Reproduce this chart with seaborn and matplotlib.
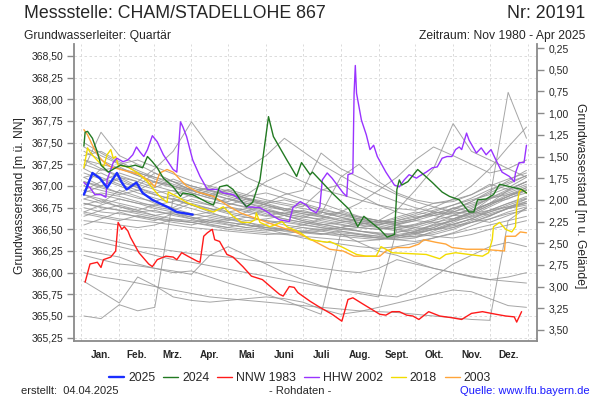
import numpy as np
import pandas as pd
import matplotlib
matplotlib.use("Agg")
import matplotlib.pyplot as plt
import seaborn as sns
from matplotlib.ticker import FuncFormatter

# Gelaendehoehe der Messstelle (m ue. NN) -> rechte Achse in m u. Gelaende
GELAENDE = 368.84

month_names = ['Jan.', 'Feb.', 'Mrz.', 'Apr.', 'Mai', 'Juni', 'Juli', 'Aug.', 'Sept.', 'Okt.', 'Nov.', 'Dez.']
month_starts = [0, 31, 59, 90, 120, 151, 181, 212, 243, 273, 304, 334, 365]

# --- graue Einzeljahre (Tag im Jahr / Wasserstand) ---
grey_days = [2, 16, 31, 46, 60, 75, 90, 105, 120, 135, 151, 166, 181, 196, 212, 227, 243, 258, 273, 288, 304, 319, 334, 349, 364]

g01 = [367.20, 367.62, 367.35, 367.25, 367.15, 367.05, 366.95, 366.88, 366.80, 366.75, 366.70, 366.66, 366.62, 366.58, 366.55, 366.52, 366.50, 366.55, 366.60, 366.58, 366.62, 366.70, 366.80, 366.95, 367.05]
g02 = [367.05, 367.00, 367.10, 367.05, 367.20, 367.40, 367.74, 367.45, 367.25, 367.10, 367.00, 366.92, 366.85, 366.80, 366.72, 366.65, 366.60, 366.58, 366.62, 366.70, 366.68, 366.72, 366.80, 366.90, 366.95]
g03 = [366.95, 366.90, 366.85, 366.80, 366.78, 366.82, 366.90, 367.00, 367.10, 367.20, 367.35, 367.55, 367.40, 367.25, 367.12, 367.00, 366.90, 366.82, 366.75, 366.70, 366.66, 366.65, 366.72, 366.80, 366.88]
g04 = [366.80, 366.75, 366.72, 366.70, 366.66, 366.62, 366.60, 366.58, 366.62, 366.70, 366.80, 366.90, 366.95, 367.38, 367.20, 367.10, 367.00, 366.90, 366.82, 366.76, 366.70, 366.68, 366.72, 366.76, 366.82]
g05 = [366.70, 366.66, 366.62, 366.60, 366.58, 366.55, 366.52, 366.50, 366.48, 366.46, 366.44, 366.45, 366.48, 366.50, 366.52, 366.55, 366.60, 366.72, 366.95, 367.20, 367.72, 367.40, 367.30, 367.20, 367.10]
g06 = [366.90, 366.85, 366.80, 366.75, 366.70, 366.68, 366.64, 366.60, 366.58, 366.55, 366.52, 366.50, 366.48, 366.45, 366.44, 366.42, 366.40, 366.42, 366.48, 366.52, 366.60, 366.70, 366.85, 368.08, 367.55]
g07 = [367.30, 367.25, 367.20, 367.12, 367.05, 367.00, 366.95, 366.90, 366.85, 366.80, 366.76, 366.72, 366.68, 366.65, 366.62, 366.60, 366.58, 366.62, 366.68, 366.75, 366.85, 367.00, 367.20, 367.45, 367.68]
g08 = [367.40, 367.30, 367.20, 367.15, 367.10, 367.05, 367.00, 366.95, 366.90, 366.86, 366.82, 366.78, 366.74, 366.70, 366.66, 366.62, 366.58, 366.55, 366.52, 366.50, 366.52, 366.58, 366.65, 366.75, 366.85]
g09 = [367.10, 367.15, 367.05, 366.98, 366.92, 366.95, 366.88, 366.82, 366.78, 366.85, 366.80, 366.74, 366.70, 366.66, 366.70, 366.64, 366.60, 366.56, 366.60, 366.66, 366.62, 366.68, 366.78, 366.88, 366.95]
g10 = [366.85, 366.92, 366.88, 366.82, 366.76, 366.72, 366.80, 366.74, 366.68, 366.64, 366.60, 366.58, 366.55, 366.52, 366.50, 366.48, 366.46, 366.44, 366.47, 366.55, 366.60, 366.64, 366.70, 366.76, 366.80]
g11 = [367.00, 366.95, 366.90, 366.95, 366.90, 366.85, 366.78, 366.72, 366.75, 366.70, 366.65, 366.70, 366.66, 366.60, 366.56, 366.52, 366.50, 366.52, 366.56, 366.62, 366.70, 366.78, 366.85, 366.92, 367.00]
g12 = [366.75, 366.70, 366.68, 366.65, 366.62, 366.60, 366.58, 366.62, 366.58, 366.55, 366.52, 366.50, 366.47, 366.45, 366.42, 366.40, 366.38, 366.40, 366.44, 366.50, 366.56, 366.62, 366.70, 366.78, 366.85]
g13 = [367.20, 367.10, 367.02, 366.95, 367.05, 367.00, 366.92, 366.86, 366.82, 366.90, 367.05, 367.15, 367.05, 366.96, 366.90, 366.84, 366.78, 366.74, 366.72, 366.80, 366.84, 366.90, 367.00, 367.08, 367.15]
g14 = [366.95, 367.05, 367.15, 367.08, 367.00, 366.94, 366.88, 366.95, 366.90, 366.84, 366.78, 366.72, 366.68, 366.64, 366.60, 366.58, 366.55, 366.60, 366.66, 366.72, 366.78, 366.84, 366.90, 366.98, 367.10]
g15 = [366.60, 366.58, 366.55, 366.52, 366.55, 366.62, 366.58, 366.54, 366.50, 366.48, 366.46, 366.44, 366.42, 366.40, 366.38, 366.36, 366.38, 366.42, 366.46, 366.50, 366.54, 366.58, 366.62, 366.68, 366.72]
g16 = [367.35, 367.40, 367.28, 367.18, 367.10, 367.02, 366.96, 366.90, 366.96, 366.90, 366.84, 366.80, 366.76, 366.95, 367.02, 366.90, 366.78, 366.70, 366.64, 366.66, 366.70, 366.76, 366.86, 366.96, 367.05]
g17 = [366.70, 366.78, 366.85, 366.80, 366.74, 366.70, 366.66, 366.70, 366.76, 366.72, 366.66, 366.62, 366.58, 366.54, 366.50, 366.52, 366.56, 366.60, 366.64, 366.68, 366.74, 366.82, 366.92, 367.02, 367.12]
g18 = [367.15, 367.08, 367.00, 366.92, 366.86, 366.80, 366.74, 366.68, 366.64, 366.60, 366.62, 366.66, 366.60, 366.56, 366.52, 366.48, 366.45, 366.43, 366.41, 366.44, 366.50, 366.58, 366.66, 366.74, 366.80]
g19 = [366.80, 366.76, 366.72, 366.68, 366.64, 366.60, 366.58, 366.55, 366.52, 366.50, 366.48, 366.50, 366.55, 366.62, 366.70, 366.80, 366.95, 367.10, 367.30, 367.45, 367.35, 367.25, 367.15, 367.20, 367.30]
g20 = [367.25, 367.18, 367.22, 367.12, 367.04, 366.98, 366.92, 366.86, 366.80, 366.76, 366.72, 366.68, 366.64, 366.62, 366.58, 366.55, 366.52, 366.50, 366.54, 366.60, 366.66, 366.72, 366.80, 366.88, 366.96]
g21 = [366.65, 366.72, 366.78, 366.72, 366.66, 366.70, 366.64, 366.58, 366.55, 366.52, 366.56, 366.60, 366.56, 366.52, 366.48, 366.45, 366.42, 366.40, 366.42, 366.46, 366.52, 366.60, 366.68, 366.74, 366.78]
g22 = [367.45, 367.35, 367.25, 367.30, 367.22, 367.14, 367.06, 367.00, 366.94, 366.88, 366.92, 366.86, 366.80, 366.74, 366.68, 366.62, 366.58, 366.64, 366.70, 366.66, 366.72, 366.82, 366.94, 367.06, 367.18]
g23 = [366.90, 366.82, 366.76, 366.70, 366.72, 366.66, 366.62, 366.66, 366.62, 366.58, 366.54, 366.50, 366.46, 366.48, 366.52, 366.48, 366.44, 366.42, 366.45, 366.50, 366.58, 366.66, 366.76, 366.86, 366.92]
g31 = [367.00, 367.20, 367.10, 367.00, 367.15, 367.05, 366.95, 366.88, 366.95, 366.85, 366.78, 366.72, 366.80, 366.70, 366.64, 366.60, 366.56, 366.52, 366.55, 366.60, 366.75, 366.70, 366.80, 366.85, 366.95]
g32 = [366.85, 366.80, 366.95, 366.88, 366.80, 366.75, 366.85, 366.78, 366.70, 366.66, 366.72, 366.66, 366.60, 366.56, 366.52, 366.58, 366.52, 366.48, 366.46, 366.52, 366.62, 366.70, 366.66, 366.74, 366.82]
g33 = [367.10, 367.00, 366.92, 367.02, 366.96, 366.88, 366.82, 366.78, 366.86, 366.80, 366.74, 366.68, 366.64, 366.70, 366.64, 366.58, 366.54, 366.50, 366.48, 366.56, 366.66, 366.74, 366.86, 366.94, 367.02]
g34 = [366.55, 366.62, 366.70, 366.64, 366.60, 366.68, 366.62, 366.56, 366.52, 366.58, 366.52, 366.48, 366.46, 366.44, 366.48, 366.44, 366.40, 366.38, 366.36, 366.40, 366.46, 366.54, 366.62, 366.70, 366.76]
g35 = [367.30, 367.20, 367.12, 367.05, 366.98, 367.08, 367.00, 366.94, 366.88, 366.82, 366.78, 366.74, 366.70, 366.68, 367.10, 367.25, 367.05, 366.92, 366.84, 366.80, 366.82, 366.90, 367.02, 366.96, 367.05]
g36 = [366.78, 366.84, 366.76, 366.72, 366.78, 366.74, 366.68, 366.64, 366.60, 366.64, 366.60, 366.55, 366.52, 366.50, 366.46, 366.44, 366.42, 366.46, 366.52, 366.58, 366.55, 366.62, 366.72, 366.80, 366.86]
g37 = [367.05, 366.98, 366.92, 366.86, 366.82, 366.90, 366.98, 366.92, 366.85, 366.78, 366.72, 366.68, 366.72, 366.66, 366.60, 366.56, 366.60, 366.56, 366.62, 366.68, 366.74, 366.80, 366.86, 366.90, 366.98]
g38 = [366.92, 367.00, 367.08, 366.98, 366.90, 366.84, 366.78, 366.74, 366.70, 366.74, 366.68, 366.62, 366.58, 366.55, 366.58, 366.62, 366.58, 366.54, 366.50, 366.54, 366.60, 366.68, 366.78, 366.88, 366.98]
g39 = [367.50, 367.38, 367.26, 367.16, 367.08, 367.00, 366.94, 366.98, 366.92, 366.86, 366.80, 366.84, 366.78, 366.72, 366.68, 366.64, 366.60, 366.58, 366.62, 366.70, 366.78, 366.86, 366.96, 367.04, 367.12]
g40 = [366.68, 366.64, 366.60, 366.66, 366.62, 366.58, 366.55, 366.60, 366.56, 366.52, 366.50, 366.48, 366.52, 366.48, 366.44, 366.42, 366.40, 366.38, 366.40, 366.48, 366.56, 366.62, 366.58, 366.66, 366.74]
# tiefe Jahre
g24 = [366.20, 366.15, 366.10, 366.08, 366.05, 366.00, 366.02, 365.95, 365.88, 365.82, 365.75, 365.68, 365.60, 365.52, 366.45, 366.35, 366.25, 366.20, 366.12, 366.05, 366.00, 365.96, 365.92, 365.95, 366.00]
g25 = [365.90, 365.78, 365.65, 365.95, 365.85, 365.72, 365.68, 365.66, 365.68, 365.70, 365.72, 365.70, 365.66, 365.58, 365.52, 365.55, 365.60, 365.65, 365.70, 365.75, 365.80, 365.78, 365.70, 365.62, 365.60]
g26 = [365.50, 365.47, 365.63, 365.56, 365.60, 366.86, 366.78, 366.70, 366.62, 366.56, 366.50, 366.45, 366.40, 366.36, 366.33, 366.30, 366.28, 366.30, 366.34, 366.40, 366.45, 366.50, 366.55, 366.60, 366.65]
g27 = [366.25, 366.22, 366.18, 366.10, 366.05, 366.02, 365.98, 366.20, 366.30, 366.20, 366.10, 366.00, 365.92, 365.85, 365.80, 365.78, 365.74, 365.72, 365.80, 365.95, 366.10, 366.20, 366.30, 366.35, 366.30]
g28 = [366.45, 366.40, 366.35, 366.30, 366.28, 366.25, 366.22, 366.20, 366.18, 366.15, 366.12, 366.10, 366.08, 366.05, 366.02, 366.00, 366.05, 366.15, 366.10, 366.05, 366.00, 365.95, 365.92, 365.90, 365.88]
g29 = [366.00, 365.95, 365.92, 365.88, 365.84, 365.80, 365.76, 365.72, 365.70, 365.68, 365.66, 365.64, 365.62, 365.60, 365.58, 365.56, 365.55, 365.54, 365.52, 365.50, 365.48, 365.46, 365.45, 366.60, 366.75]
g30 = [366.40, 366.35, 366.30, 366.25, 366.20, 366.15, 366.12, 366.08, 366.04, 366.00, 365.96, 365.92, 365.88, 365.84, 365.80, 365.76, 365.72, 366.50, 366.45, 366.42, 366.40, 366.44, 366.50, 366.55, 366.60]

# --- hervorgehobene Jahre ---
days_2025 = [2, 9, 15, 21, 29, 33, 37, 45, 50, 58, 70, 78, 91]
lvl_2025 = [366.90, 367.15, 367.09, 366.98, 367.15, 367.04, 366.96, 367.04, 366.92, 366.84, 366.76, 366.70, 366.67]

days_2024 = [2, 3, 5, 9, 13, 16, 22, 28, 32, 38, 44, 50, 54, 58, 62, 67, 75, 81, 83, 91, 103, 108, 113, 119, 124, 130,
             135, 140, 146, 153, 157, 168, 176, 180, 187, 189, 195, 205, 219, 226, 231, 237, 244, 250, 256, 258, 260, 262,
             267, 275, 280, 287, 295, 301, 309, 317, 321, 324, 331, 337, 342, 351, 360, 364]
lvl_2024 = [367.46, 367.62, 367.63, 367.55, 367.39, 367.24, 367.16, 367.21, 367.24, 367.22, 367.24, 367.21, 367.34, 367.28,
            367.21, 367.09, 366.99, 366.88, 366.92, 366.90, 366.81, 366.78, 366.99, 367.01, 366.96, 366.84, 366.76, 366.81,
            367.07, 367.80, 367.57, 367.30, 367.11, 367.27, 367.13, 367.16, 367.07, 366.92, 366.73, 366.53, 366.65, 366.58,
            366.50, 366.41, 366.44, 366.96, 367.07, 367.01, 367.05, 367.19, 367.13, 367.04, 366.93, 366.88, 366.84, 366.70,
            366.70, 366.84, 366.85, 366.90, 367.02, 366.99, 366.96, 366.92]

days_1983 = [3, 7, 13, 16, 18, 24, 28, 30, 33, 35, 38, 40, 47, 55, 58, 62, 69, 75, 78, 82, 87, 95, 97, 100, 103, 107, 109,
             113, 119, 124, 132, 139, 148, 157, 162, 165, 170, 174, 177, 187, 195, 205, 213, 218, 222, 230, 237, 244, 249,
             254, 260, 266, 271, 276, 284, 293, 303, 311, 319, 328, 339, 347, 354, 356, 359, 360]
lvl_1983 = [365.89, 366.10, 366.12, 366.06, 366.15, 366.18, 366.25, 366.58, 366.50, 366.53, 366.48, 366.41, 366.23, 366.10,
            366.07, 366.15, 366.19, 366.18, 366.15, 366.23, 366.19, 366.13, 366.12, 366.42, 366.46, 366.50, 366.38, 366.36,
            366.21, 366.18, 366.07, 365.96, 365.92, 365.81, 365.75, 365.73, 365.84, 365.83, 365.77, 365.67, 365.60, 365.52,
            365.44, 365.69, 365.71, 365.64, 365.58, 365.52, 365.51, 365.55, 365.55, 365.51, 365.50, 365.46, 365.55, 365.50,
            365.48, 365.46, 365.53, 365.55, 365.52, 365.50, 365.49, 365.43, 365.52, 365.55]

days_2002 = [2, 7, 11, 16, 20, 21, 22, 26, 29, 34, 38, 42, 45, 48, 51, 54, 58, 62, 67, 75, 78, 81, 83, 86, 91, 97, 103,
             111, 116, 124, 130, 135, 146, 152, 157, 162, 170, 173, 179, 184, 187, 192, 195, 197, 201, 205, 214, 217, 218,
             222, 223, 224, 225, 229, 233, 236, 239, 242, 249, 256, 260, 264, 268, 274, 276, 282, 287, 291, 295, 299, 303,
             306, 309, 311, 315, 317, 323, 327, 331, 335, 339, 344, 350, 354, 355, 358, 362, 364]
lvl_2002 = [367.04, 366.98, 366.90, 366.90, 366.87, 367.07, 367.11, 367.27, 367.32, 367.28, 367.30, 367.36, 367.45, 367.39,
            367.34, 367.42, 367.58, 367.51, 367.36, 367.19, 367.16, 367.74, 367.68, 367.57, 367.30, 367.11, 366.96, 366.96,
            366.92, 366.90, 366.84, 366.76, 366.75, 366.70, 366.65, 366.61, 366.59, 366.75, 366.82, 366.78, 366.73, 366.69,
            366.76, 367.07, 367.15, 367.09, 366.92, 366.88, 367.13, 367.15, 368.07, 368.39, 368.07, 367.76, 367.59, 367.42,
            367.47, 367.34, 367.16, 367.01, 366.99, 367.07, 367.13, 367.09, 367.11, 367.16, 367.21, 367.22, 367.32, 367.34,
            367.34, 367.42, 367.45, 367.42, 367.61, 367.53, 367.38, 367.44, 367.36, 367.42, 367.30, 367.16, 367.11, 367.05,
            367.15, 367.27, 367.27, 367.47]

days_2018 = [2, 5, 7, 10, 14, 18, 21, 24, 26, 28, 30, 38, 46, 54, 59, 64, 70, 71, 78, 86, 97, 108, 116, 124, 131, 138,
             142, 143, 146, 154, 160, 164, 168, 173, 179, 187, 201, 203, 214, 225, 233, 241, 245, 249, 254, 268, 282, 293,
             298, 306, 317, 328, 333, 336, 337, 342, 347, 352, 355, 356, 358, 360, 364]
lvl_2018 = [367.21, 367.44, 367.39, 367.34, 367.28, 367.22, 367.36, 367.42, 367.32, 367.34, 367.24, 367.22, 367.15, 367.05,
            366.96, 366.88, 366.81, 366.93, 366.88, 366.81, 366.75, 366.70, 366.76, 366.65, 366.58, 366.58, 366.61, 366.69,
            366.58, 366.53, 366.56, 366.59, 366.53, 366.50, 366.46, 366.38, 366.35, 366.36, 366.29, 366.21, 366.19, 366.19,
            366.30, 366.27, 366.23, 366.22, 366.21, 366.16, 366.21, 366.23, 366.21, 366.19, 366.23, 366.38, 366.53, 366.58,
            366.50, 366.47, 366.53, 366.76, 366.93, 366.96, 366.92]

days_2003 = [2, 5, 9, 13, 18, 24, 32, 40, 48, 56, 60, 64, 70, 75, 81, 86, 95, 108, 119, 130, 140, 152, 162, 173, 184, 203,
             214, 223, 244, 249, 258, 268, 276, 280, 290, 298, 303, 315, 328, 346, 347, 355, 359, 364]
lvl_2003 = [367.65, 367.59, 367.47, 367.36, 367.28, 367.22, 367.19, 367.16, 367.13, 367.05, 366.99, 367.15, 367.19, 367.16,
            367.07, 367.00, 366.93, 366.88, 366.78, 366.69, 366.64, 366.58, 366.53, 366.48, 366.41, 366.27, 366.25, 366.19,
            366.19, 366.25, 366.29, 366.29, 366.33, 366.38, 366.35, 366.33, 366.29, 366.27, 366.27, 366.25, 366.42, 366.42,
            366.47, 366.46]

grey_years = [g01, g02, g03, g04, g05, g06, g07, g08, g09, g10, g11, g12, g13, g14, g15, g16, g17, g18, g19, g20,
              g21, g22, g23, g24, g25, g26, g27, g28, g29, g30, g31, g32, g33, g34, g35, g36, g37, g38, g39, g40]
grey_df = pd.DataFrame({
    'tag': grey_days * len(grey_years),
    'stand': [v for g in grey_years for v in g],
    'jahr': [i for i, g in enumerate(grey_years) for _ in g],
})

highlight = [
    (days_2003, lvl_2003, '#ffa53a', 1.0, '2003'),
    (days_2018, lvl_2018, '#f2dc00', 1.0, '2018'),
    (days_2002, lvl_2002, '#9933ff', 1.0, 'HHW 2002'),
    (days_1983, lvl_1983, '#ff1a1a', 1.0, 'NNW 1983'),
    (days_2024, lvl_2024, '#227a22', 1.0, '2024'),
    (days_2025, lvl_2025, '#1a2eff', 1.7, '2025'),
]
legend_order = ['2025', '2024', 'NNW 1983', 'HHW 2002', '2018', '2003']

sns.set_style('white')
plt.rcParams['font.family'] = ['Liberation Sans', 'DejaVu Sans']

fig = plt.figure(figsize=(6, 4), dpi=100)
ax = fig.add_axes([0.1225, 0.14825, 0.7733, 0.74175])

sns.lineplot(data=grey_df, x='tag', y='stand', units='jahr', estimator=None,
             color='#969696', lw=0.7, alpha=0.85, ax=ax, legend=False)

handles = {}
for d, v, c, w, lab in highlight:
    sns.lineplot(x=d, y=v, color=c, lw=w, ax=ax, sort=False, estimator=None)
    handles[lab] = ax.lines[-1]

y_lo, y_hi = 365.215, 368.638
ax.set_xlim(-6.5, 373)
ax.set_ylim(y_lo, y_hi)

komma = FuncFormatter(lambda v, p: f"{v:.2f}".replace('.', ','))

ax.set_yticks(np.arange(365.25, 368.51, 0.25))
ax.yaxis.set_major_formatter(komma)
ax.set_xticks(month_starts)
ax.set_xticklabels([''] * len(month_starts))
ax.set_xticks([(a + b) / 2 for a, b in zip(month_starts[:-1], month_starts[1:])], minor=True)
ax.set_xticklabels(month_names, minor=True, fontsize=7.2, fontweight='bold')
ax.tick_params(axis='x', which='major', direction='out', length=4, color='#8a8a8a', width=1)
ax.tick_params(axis='x', which='minor', length=0, pad=7)
ax.tick_params(axis='y', direction='out', length=5, color='#8a8a8a', width=1, labelsize=7.5, pad=2)
ax.set_xlabel('')
ax.set_ylabel('')

ax.grid(True, which='major', color='#d6d6d6', ls=(0, (3, 3)), lw=0.6)
for s in ['top', 'right']:
    ax.spines[s].set_visible(False)
for s in ['left', 'bottom']:
    ax.spines[s].set_color('#8a8a8a')
    ax.spines[s].set_linewidth(1.3)

ax2 = ax.twinx()
ax2.set_ylim(GELAENDE - y_lo, GELAENDE - y_hi)
ax2.set_yticks(np.arange(0.25, 3.51, 0.25))
ax2.yaxis.set_major_formatter(komma)
ax2.tick_params(axis='y', direction='out', length=5, color='#8a8a8a', width=1, labelsize=7.5, pad=3)
for s in ['top', 'left', 'bottom']:
    ax2.spines[s].set_visible(False)
ax2.spines['right'].set_color('#8a8a8a')
ax2.spines['right'].set_linewidth(1.3)

# Texte
fig.text(0.04, 0.965, 'Messstelle: CHAM/STADELLOHE 867', fontsize=12.8, va='center', ha='left')
fig.text(0.975, 0.965, 'Nr: 20191', fontsize=12.8, va='center', ha='right')
fig.text(0.04, 0.91, 'Grundwasserleiter: Quartär', fontsize=8.7, va='center', ha='left')
fig.text(0.975, 0.91, 'Zeitraum: Nov 1980 - Apr 2025', fontsize=8.7, va='center', ha='right')
fig.text(0.033, 0.51, 'Grundwasserstand [m ü. NN]', fontsize=8.7, rotation=90, va='center', ha='center')
fig.text(0.967, 0.51, 'Grundwasserstand [m u. Gelände]', fontsize=8.7, rotation=270, va='center', ha='center')

fig.legend([handles[k] for k in legend_order], legend_order, loc='center', bbox_to_anchor=(0.5, 0.055),
           ncol=6, frameon=False, fontsize=8.8, handlelength=1.25, handletextpad=0.3, columnspacing=0.65)

fig.text(0.035, 0.022, 'erstellt:  04.04.2025', fontsize=8, va='center', ha='left')
fig.text(0.5, 0.022, '- Rohdaten -', fontsize=8, va='center', ha='center')
fig.text(0.983, 0.022, 'Quelle: www.lfu.bayern.de', fontsize=8, va='center', ha='right', color='#1a1aff')

fig.savefig('out.png', dpi=100)
